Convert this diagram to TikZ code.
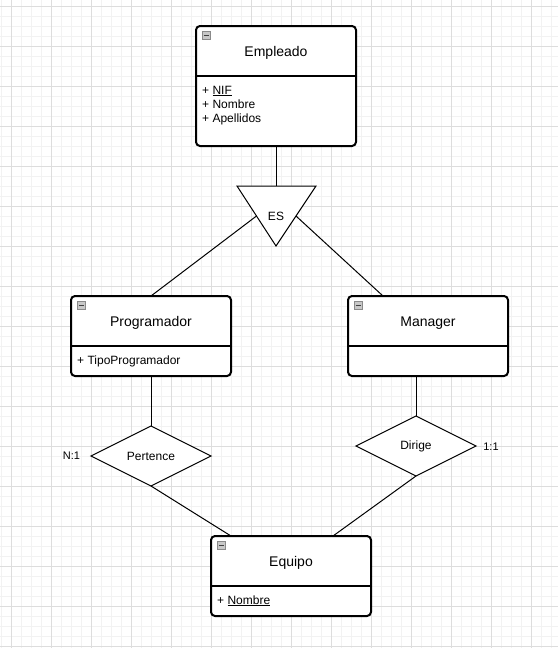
\documentclass[tikz,border=0pt]{standalone}
\usepackage{fontspec}
\setmainfont{Liberation Sans}
\usetikzlibrary{shapes.geometric}
\definecolor{gridmajor}{HTML}{DDDDDD}
\definecolor{gridminor}{HTML}{F2F2F2}
\definecolor{iconfill}{HTML}{C8C8C8}
\definecolor{iconborder}{HTML}{8A8A8A}
\begin{document}
\begin{tikzpicture}[x=1pt,y=-1pt,
  entity/.style={draw, line width=2pt, rounded corners=4pt, fill=white, outer sep=0pt, inner sep=0pt, minimum width=160pt},
  titletext/.style={font=\fontsize{14}{16}\selectfont, inner sep=0pt, anchor=base},
  attr/.style={font=\fontsize{12}{14}\selectfont, inner sep=0pt, anchor=base west},
  rel/.style={draw, diamond, line width=1pt, fill=white, inner sep=0pt, outer sep=0pt, aspect=2, minimum width=120pt, minimum height=60pt, font=\fontsize{12}{14}\selectfont},
  conn/.style={line width=1pt},
  card/.style={font=\fontsize{11}{13}\selectfont, inner sep=0pt, anchor=base},
  icon/.style={draw=iconborder, fill=iconfill, minimum size=8pt, inner sep=0pt, outer sep=0pt, line width=0.7pt},
  iconbar/.style={line width=0.9pt, black!75}
]
\useasboundingbox (0,0) rectangle (558,648);
\fill[white] (0,0) rectangle (558,648);
% grid
\foreach \x in {1,11,...,551} \draw[gridminor, line width=1pt] (\x,0) -- (\x,648);
\foreach \y in {6,16,...,646} \draw[gridminor, line width=1pt] (0,\y) -- (558,\y);
\foreach \x in {11,51,...,531} \draw[gridmajor, line width=1pt] (\x,0) -- (\x,648);
\foreach \y in {6,46,...,646} \draw[gridmajor, line width=1pt] (0,\y) -- (558,\y);

% entities
\node[entity, minimum height=120pt] (emp) at (276,86) {};
\node[entity, minimum height=80pt] (prog) at (151,336) {};
\node[entity, minimum height=80pt] (mgr) at (428,336) {};
\node[entity, minimum height=80pt] (equ) at (291,576) {};

\foreach \e in {emp,prog,mgr,equ}{
  \draw[line width=2pt] ([yshift=-50pt]\e.north west) -- ([yshift=-50pt]\e.north east);
  \node[icon] (\e icon) at ([xshift=10pt,yshift=-9pt]\e.north west) {};
  \draw[iconbar] ([xshift=-2.5pt]\e icon.center) -- ([xshift=2.5pt]\e icon.center);
}

% titles
\node[titletext] (empT) at (276,56) {Empleado};
\node[titletext] (progT) at (151,326) {Programador};
\node[titletext] (mgrT) at (428,326) {Manager};
\node[titletext] (equT) at (291,566) {Equipo};

% attributes
\node[attr] (empA1) at (202,94) {+ \underline{NIF}};
\node[attr] (empA2) at (202,108) {+ Nombre};
\node[attr] (empA3) at (202,122.5) {+ Apellidos};
\node[attr] (progA1) at (77,364) {+ TipoProgramador};
\node[attr] (equA1) at (217,604) {+ \underline{Nombre}};

% ES triangle
\coordinate (esTL) at (237,186);
\coordinate (esTR) at (316,186);
\coordinate (esB) at (276,246);
\coordinate (esT) at (276,186);
\coordinate (esL) at (256.5,216);
\coordinate (esR) at (296,216);
\draw[conn, fill=white] (esTL) -- (esTR) -- (esB) -- cycle;
\node[font=\fontsize{12}{14}\selectfont, inner sep=0pt, anchor=base] (es) at (276,220) {ES};

% relationships
\node[rel] (pert) at (151,456) {Pertence};
\node[rel] (dir) at (416,446) {Dirige};
\node[card] (pertC) at (71.5,459.5) {N:1};
\node[card] (dirC) at (491,450.5) {1:1};

% connectors
\draw[conn] (emp.south) -- (esT);
\draw[conn] (esL) -- (prog.north);
\draw[conn] (esR) -- ([xshift=-45pt]mgr.north);
\draw[conn] (prog.south) -- (pert.north);
\draw[conn] (pert.south) -- ([xshift=-60pt]equ.north);
\draw[conn] ([xshift=-12pt]mgr.south) -- (dir.north);
\draw[conn] (dir.south) -- ([xshift=42pt]equ.north);
\end{tikzpicture}
\end{document}
